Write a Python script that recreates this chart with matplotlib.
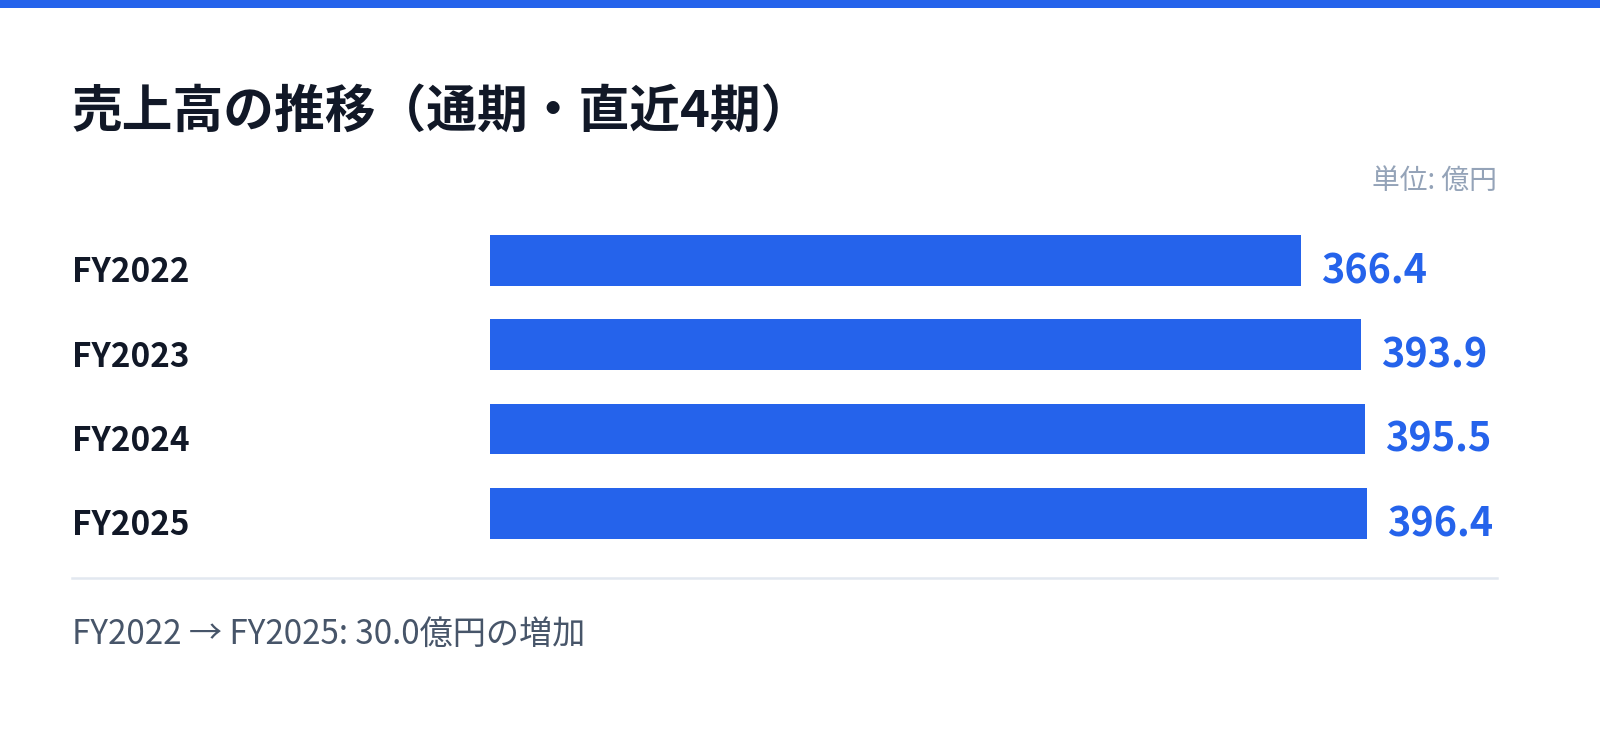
import matplotlib
matplotlib.use('Agg')
import matplotlib.pyplot as plt
from matplotlib.transforms import blended_transform_factory

plt.rcParams['font.family'] = ['Noto Sans CJK JP', 'DejaVu Sans']

# data
years = ['FY2022', 'FY2023', 'FY2024', 'FY2025']
sales = [366.4, 393.9, 395.5, 396.4]
title = '売上高の推移（通期・直近4期）'
unit_label = '単位: 億円'
footer = 'FY2022 → FY2025: 30.0億円の増加'

blue = '#2563eb'
dark = '#111827'

W, H = 1600, 733
fig = plt.figure(figsize=(W / 100, H / 100), dpi=100)
fig.patch.set_facecolor('white')

# top stripe
fig.add_artist(plt.Rectangle((0, 1 - 8 / H), 1, 8 / H, transform=fig.transFigure,
                             color=blue, lw=0))

# bar axes: x from 490px to 1497px, rows spaced ~84px
ax_top, ax_bot = 218.3, 555.5
ax = fig.add_axes([490 / W, 1 - ax_bot / H, (1497 - 490) / W, (ax_bot - ax_top) / H])
ax.barh(range(len(years)), sales, height=0.6, color=blue)
ax.set_xlim(0, 455.2)
ax.set_ylim(len(years) - 0.5, -0.5)
ax.axis('off')

trans = blended_transform_factory(fig.transFigure, ax.transData)
for i, (yr, v) in enumerate(zip(years, sales)):
    ax.text(72 / W, i + 0.26, yr, transform=trans, ha='left', va='baseline',
            fontsize=24, fontweight='bold', color=dark)
    ax.annotate(f'{v:.1f}', xy=(v, i + 0.27), xytext=(14.4, 0), textcoords='offset points',
                ha='left', va='baseline', fontsize=28.5, fontweight='bold', color=blue)

fig.text(72 / W, 1 - 112 / H, title, ha='left', va='center', fontsize=36.5,
         fontweight='bold', color=dark)
fig.text(1497 / W, 1 - 181 / H, unit_label, ha='right', va='center', fontsize=20,
         color='#94a3b8')

# divider line
fig.add_artist(plt.Line2D([72 / W, 1497 / W], [1 - 578 / H, 1 - 578 / H],
                          transform=fig.transFigure, color='#e2e8f0', lw=1.8))

fig.text(72 / W, 1 - 634 / H, footer, ha='left', va='center', fontsize=23.9,
         color='#475569')

fig.savefig('out.png', dpi=100, facecolor='white')
